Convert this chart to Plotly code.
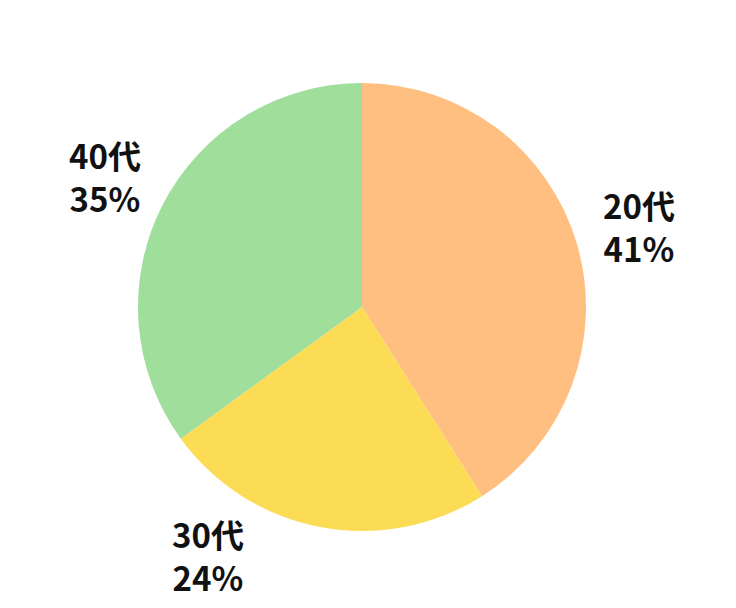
import math
import plotly.graph_objects as go

labels = ["20代", "30代", "40代"]
values = [41, 24, 35]
colors = ["#FFBF80", "#FCDC55", "#A0DE9C"]

# layout parameters (pixels)
W, H = 736, 608
ML, MR, MT, MB = 130, 158, 75, 85
PW, PH = W - ML - MR, H - MT - MB
LABEL_R = 288          # distance of label block centre from pie centre
MAX_DOWN = 248         # keep label blocks inside the canvas bottom
FONT = dict(family="Noto Sans CJK JP", size=33, color="#111111")

fig = go.Figure(go.Pie(
    labels=labels,
    values=values,
    sort=False,
    direction="clockwise",
    rotation=0,
    marker=dict(colors=colors, line=dict(width=0)),
    textinfo="none",
    showlegend=False,
    hoverinfo="label+percent",
))

total = sum(values)
cum = 0
annotations = []
for lab, v in zip(labels, values):
    mid = (cum + v / 2) / total
    cum += v
    theta = 2 * math.pi * mid
    dx = LABEL_R * math.sin(theta)
    dy = LABEL_R * math.cos(theta)  # upwards positive
    if -dy > MAX_DOWN:
        phi = math.acos(MAX_DOWN / LABEL_R)
        sgn = 1 if dx >= 0 else -1
        dx = sgn * LABEL_R * math.sin(phi) * 1.05
        dy = -MAX_DOWN
    x = 0.5 + dx / PW
    y = 0.5 + dy / PH
    pct = f"{round(v / total * 100)}%"
    annotations.append(dict(
        x=x, y=y, xref="paper", yref="paper",
        text=f"<b>{lab}<br>{pct}</b>", showarrow=False,
        xanchor="center", yanchor="middle", align="center",
        font=FONT,
    ))

fig.update_layout(
    width=W, height=H,
    margin=dict(l=ML, r=MR, t=MT, b=MB),
    paper_bgcolor="white",
    plot_bgcolor="white",
    annotations=annotations,
)
fig.write_html("out.html")
